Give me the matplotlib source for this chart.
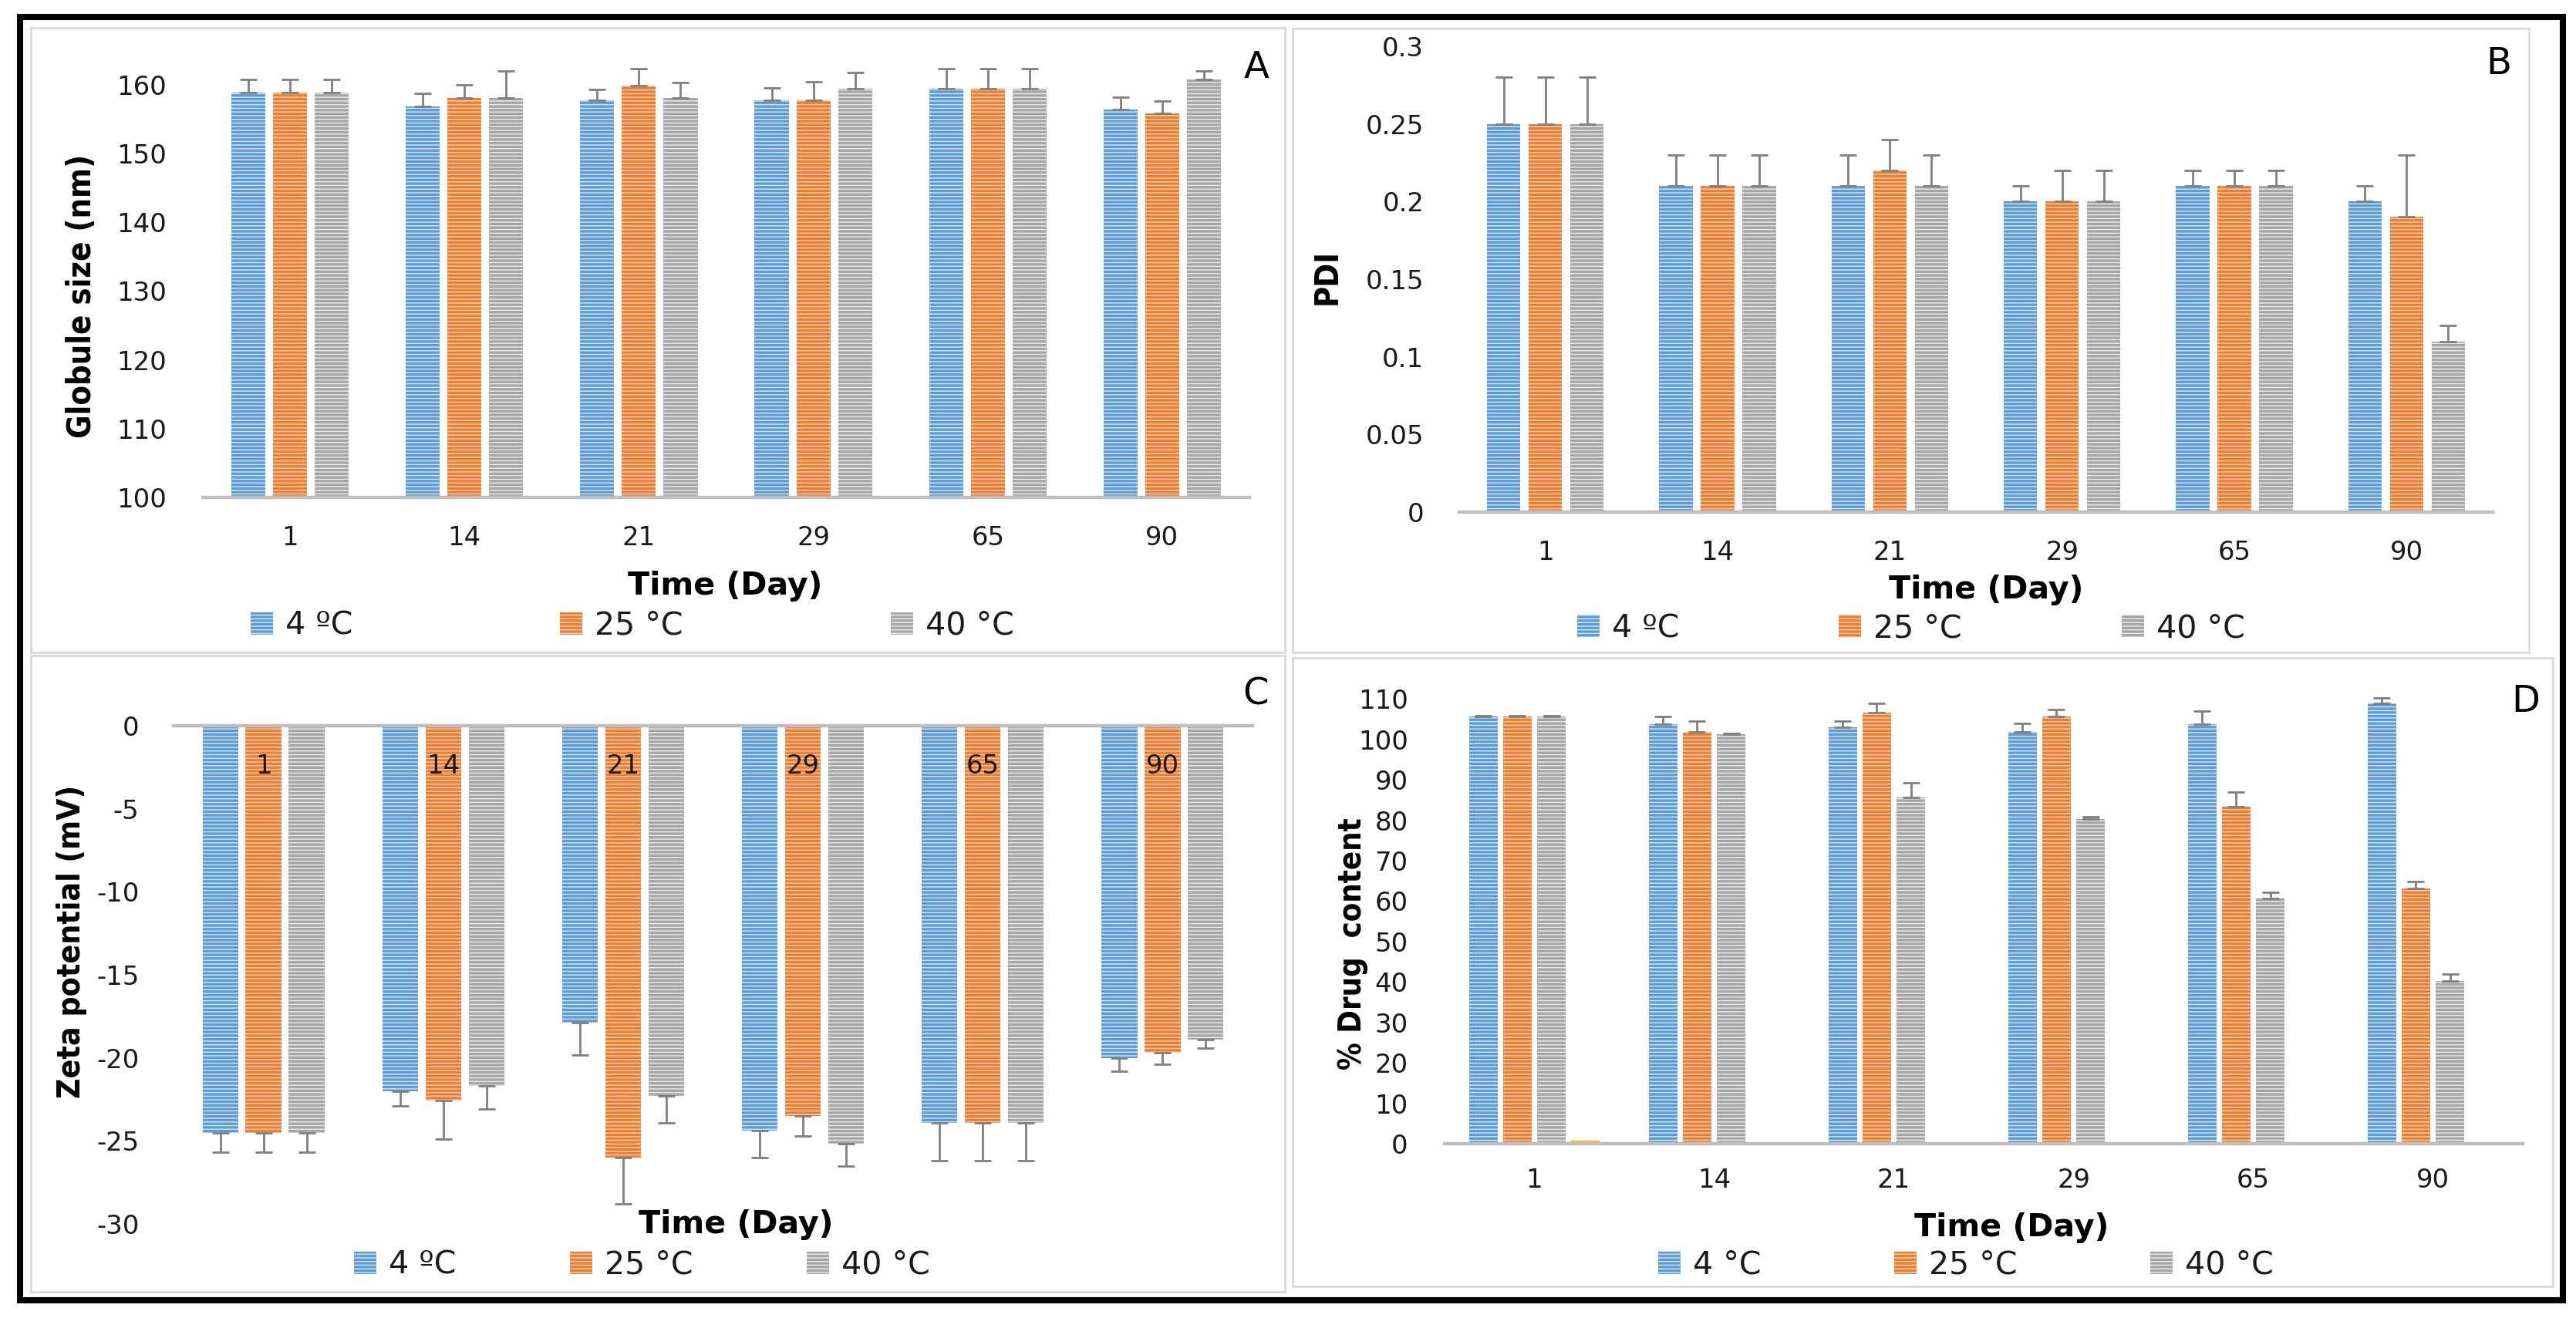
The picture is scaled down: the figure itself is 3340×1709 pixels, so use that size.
import numpy as np
import matplotlib
matplotlib.use("Agg")
import matplotlib.pyplot as plt
from matplotlib import font_manager
from matplotlib.font_manager import FontProperties
from matplotlib.patches import Rectangle

# ---------------- data ----------------
days = ["1", "14", "21", "29", "65", "90"]
temps_a = ["4 ºC", "25 °C", "40 °C"]
temps_d = ["4 °C", "25 °C", "40 °C"]

size_4 = [158.8, 156.8, 157.7, 157.7, 159.4, 156.4]
size_25 = [158.8, 158.0, 159.9, 157.7, 159.4, 155.8]
size_40 = [158.8, 158.0, 158.0, 159.4, 159.4, 160.7]
size_err_4 = [1.9, 1.9, 1.6, 1.8, 2.9, 1.8]
size_err_25 = [1.9, 2.0, 2.4, 2.7, 2.9, 1.8]
size_err_40 = [1.9, 4.0, 2.3, 2.3, 2.9, 1.3]

pdi_4 = [0.25, 0.21, 0.21, 0.20, 0.21, 0.20]
pdi_25 = [0.25, 0.21, 0.22, 0.20, 0.21, 0.19]
pdi_40 = [0.25, 0.21, 0.21, 0.20, 0.21, 0.11]
pdi_err_4 = [0.03, 0.02, 0.02, 0.01, 0.01, 0.01]
pdi_err_25 = [0.03, 0.02, 0.02, 0.02, 0.01, 0.04]
pdi_err_40 = [0.03, 0.02, 0.02, 0.02, 0.01, 0.01]

zeta_4 = [-24.5, -22.0, -17.9, -24.4, -23.9, -20.0]
zeta_25 = [-24.5, -22.55, -26.0, -23.5, -23.9, -19.7]
zeta_40 = [-24.5, -21.7, -22.3, -25.15, -23.9, -18.9]
zeta_err_4 = [1.2, 0.9, 1.95, 1.6, 2.3, 0.8]
zeta_err_25 = [1.2, 2.35, 2.8, 1.2, 2.3, 0.7]
zeta_err_40 = [1.2, 1.4, 1.6, 1.35, 2.3, 0.5]

drug_4 = [105.6, 103.7, 102.9, 101.9, 103.7, 108.9]
drug_25 = [105.6, 101.8, 106.6, 105.6, 83.4, 63.1]
drug_40 = [105.6, 101.2, 85.7, 80.2, 60.7, 40.2]
drug_extra = [0.85, np.nan, np.nan, np.nan, np.nan, np.nan]
drug_err_4 = [0.2, 1.9, 1.6, 2.1, 3.2, 1.4]
drug_err_25 = [0.2, 2.7, 2.3, 1.7, 3.6, 1.7]
drug_err_40 = [0.2, 0.3, 3.6, 0.6, 1.5, 1.8]

size_ticks = [100, 110, 120, 130, 140, 150, 160]
pdi_ticks = [0, 0.05, 0.1, 0.15, 0.2, 0.25, 0.3]
pdi_tick_labels = ["0", "0.05", "0.1", "0.15", "0.2", "0.25", "0.3"]
zeta_ticks = [-30, -25, -20, -15, -10, -5, 0]
drug_ticks = list(range(0, 111, 10))

# ---------------- style ----------------
W, H = 3341, 1709
DPI = 200
plt.rcParams["hatch.linewidth"] = 0.55
plt.rcParams["axes.unicode_minus"] = False
fig = plt.figure(figsize=(W / DPI, H / DPI), dpi=DPI)

BASE = "DejaVu Sans"
TICK_FS = 12.2
LEG_FS = 14.8
TXT = "#1a1a1a"
AXIS_C = "#BFBFBF"
ERR_C = "#7F7F7F"

faces = ["#5B9BD5", "#ED7D31", "#A5A5A5"]
hatches = ["#CFE1F3", "#FACDAE", "#E6E6E6"]
HATCH = "-------"


def find_label_font():
    def bold(f):
        w = f.weight
        return w == 700 or w == "bold"
    prefs = ["Liberation Sans Narrow", "DejaVu Sans", "Roboto Condensed", "Open Sans Condensed"]
    for name in prefs:
        for f in font_manager.fontManager.ttflist:
            if f.name != name or not bold(f) or f.style != "normal":
                continue
            if name == "DejaVu Sans" and "Condensed" not in f.fname:
                continue
            return FontProperties(fname=f.fname)
    return FontProperties(family="DejaVu Sans", weight="bold")


YFP = find_label_font()


def px_axes(x0, x1, y_top, y_bot):
    return fig.add_axes([x0 / W, 1 - y_bot / H, (x1 - x0) / W, (y_bot - y_top) / H])


def draw(ax, values, errs, step, width, down=False, extra=None):
    x = np.arange(len(days))
    n = len(values) + (1 if extra is not None else 0)
    offs = (np.arange(n) - (n - 1) / 2) * step
    bars = []
    for i, (v, e) in enumerate(zip(values, errs)):
        v = np.array(v, dtype=float)
        e = np.array(e, dtype=float)
        yerr = [e, np.zeros_like(e)] if down else [np.zeros_like(e), e]
        b = ax.bar(x + offs[i], v, width, color=faces[i], edgecolor=hatches[i],
                   linewidth=0, hatch=HATCH, zorder=2,
                   yerr=yerr, error_kw=dict(ecolor=ERR_C, elinewidth=1.0,
                                            capsize=3.8, capthick=1.0, zorder=3))
        bars.append(b)
    if extra is not None:
        ax.bar(x + offs[-1], np.array(extra, dtype=float), width, color="#FFC000",
               linewidth=0, zorder=2)
    ax.set_xlim(-0.5, len(days) - 0.5)
    ax.set_xticks(x)
    ax.set_xticklabels(days)
    for s in ["top", "right", "left"]:
        ax.spines[s].set_visible(False)
    ax.spines["bottom"].set_color(AXIS_C)
    ax.spines["bottom"].set_linewidth(1.6)
    ax.spines["bottom"].set_zorder(4)
    ax.tick_params(axis="both", length=0, labelsize=TICK_FS, labelcolor=TXT)
    for lab in ax.get_xticklabels() + ax.get_yticklabels():
        lab.set_family(BASE)
    ax.set_facecolor("none")
    return bars


def legend(ax, bars, labels, xpx, ypx, cs):
    ax.legend(bars, labels, loc="center left", bbox_to_anchor=(xpx / W, 1 - ypx / H),
              bbox_transform=fig.transFigure, ncol=3, frameon=False,
              prop=dict(family=BASE, size=LEG_FS), handlelength=0.7, handleheight=0.7,
              handletextpad=0.39, columnspacing=cs, borderpad=0, borderaxespad=0,
              labelcolor=TXT)


def xlab(ax, xf, yf):
    ax.set_xlabel("Time (Day)", family=BASE, fontsize=14.8, fontweight="bold", color="black")
    ax.xaxis.set_label_coords(xf, yf)
    ax.xaxis.label.set_verticalalignment("top")


def ylab(ax, text, xf, yf):
    ax.set_ylabel(text, fontproperties=YFP, fontsize=14, color="black")
    ax.yaxis.set_label_coords(xf, yf)


# ---------------- panel A ----------------
axA = px_axes(263, 1620, 65, 645)
bA = draw(axA, [size_4, size_25, size_40], [size_err_4, size_err_25, size_err_40], 0.239, 0.195)
axA.set_ylim(100, 165)
axA.set_yticks(size_ticks)
axA.tick_params(axis="x", pad=13)
axA.tick_params(axis="y", pad=17)
ylab(axA, "Globule size (nm)", -0.100, 0.45)
xlab(axA, 0.499, -0.164)
legend(axA, bA, temps_a, 325, 812, 6.55)

# ---------------- panel B ----------------
axB = px_axes(1892, 3232, 60, 664)
bB = draw(axB, [pdi_4, pdi_25, pdi_40], [pdi_err_4, pdi_err_25, pdi_err_40], 0.242, 0.193)
axB.set_ylim(0, 0.3)
axB.set_yticks(pdi_ticks)
axB.set_yticklabels(pdi_tick_labels)
for lab in axB.get_yticklabels():
    lab.set_family(BASE)
axB.tick_params(axis="x", pad=13)
axB.tick_params(axis="y", pad=16.5)
ylab(axB, "PDI", -0.112, 0.505)
xlab(axB, 0.510, -0.134)
legend(axB, bB, temps_a, 2045, 815, 5.04)

# ---------------- panel C ----------------
axC = px_axes(225, 1624, 941, 1587)
bC = draw(axC, [zeta_4, zeta_25, zeta_40], [zeta_err_4, zeta_err_25, zeta_err_40], 0.24, 0.198,
          down=True)
axC.set_ylim(-30, 0)
axC.set_yticks(zeta_ticks)
axC.spines["bottom"].set_position(("data", 0))
axC.xaxis.set_zorder(5)
axC.tick_params(axis="x", pad=13)
axC.tick_params(axis="y", pad=16)
ylab(axC, "Zeta potential (mV)", -0.080, 0.567)
xlab(axC, 0.521, 0.029)
legend(axC, bC, temps_a, 459, 1641, 3.6)

# ---------------- panel D ----------------
axD = px_axes(1873, 3271, 901, 1483)
bD = draw(axD, [drug_4, drug_25, drug_40], [drug_err_4, drug_err_25, drug_err_40], 0.189, 0.158,
          extra=drug_extra)
axD.set_ylim(0, 111)
axD.set_yticks(drug_ticks)
axD.tick_params(axis="x", pad=11)
axD.tick_params(axis="y", pad=17)
ylab(axD, "% Drug  content", -0.071, 0.446)
xlab(axD, 0.526, -0.153)
legend(axD, bD, temps_d, 2150, 1641, 4.2)

# fit the rotated axis titles to the lengths seen in the reference
renderer = fig.canvas.get_renderer()
targets = [(axA, 368), (axC, 405), (axD, 327)]
sizes = []
for ax, target in targets:
    lab = ax.yaxis.label
    h = lab.get_window_extent(renderer).height
    s = lab.get_fontsize() * target / h
    lab.set_fontsize(s)
    sizes.append(s)
axB.yaxis.label.set_fontsize(sizes[0])

# ---------------- frames and panel letters ----------------
def frame(x0, y0, x1, y1, color, lw):
    fig.patches.append(Rectangle((x0 / W, 1 - y1 / H), (x1 - x0) / W, (y1 - y0) / H,
                                 transform=fig.transFigure, fill=False, edgecolor=color,
                                 linewidth=lw, zorder=0))

frame(40, 36, 1666, 846, "#D9D9D9", 1.0)
frame(1676, 37, 3279, 846, "#D9D9D9", 1.0)
frame(40, 850, 1666, 1675, "#D9D9D9", 1.0)
frame(1676, 853, 3310, 1668, "#D9D9D9", 1.0)
frame(26, 22, 3323, 1686, "black", 2.9)

for letter, xp, yp in [("A", 1629, 101), ("B", 3240, 96), ("C", 1628, 913), ("D", 3275, 923)]:
    fig.text(xp / W, 1 - yp / H, letter, ha="center", va="baseline", family=BASE,
             fontsize=17.3, color="black")

fig.savefig("out.png", dpi=DPI, facecolor="white")
